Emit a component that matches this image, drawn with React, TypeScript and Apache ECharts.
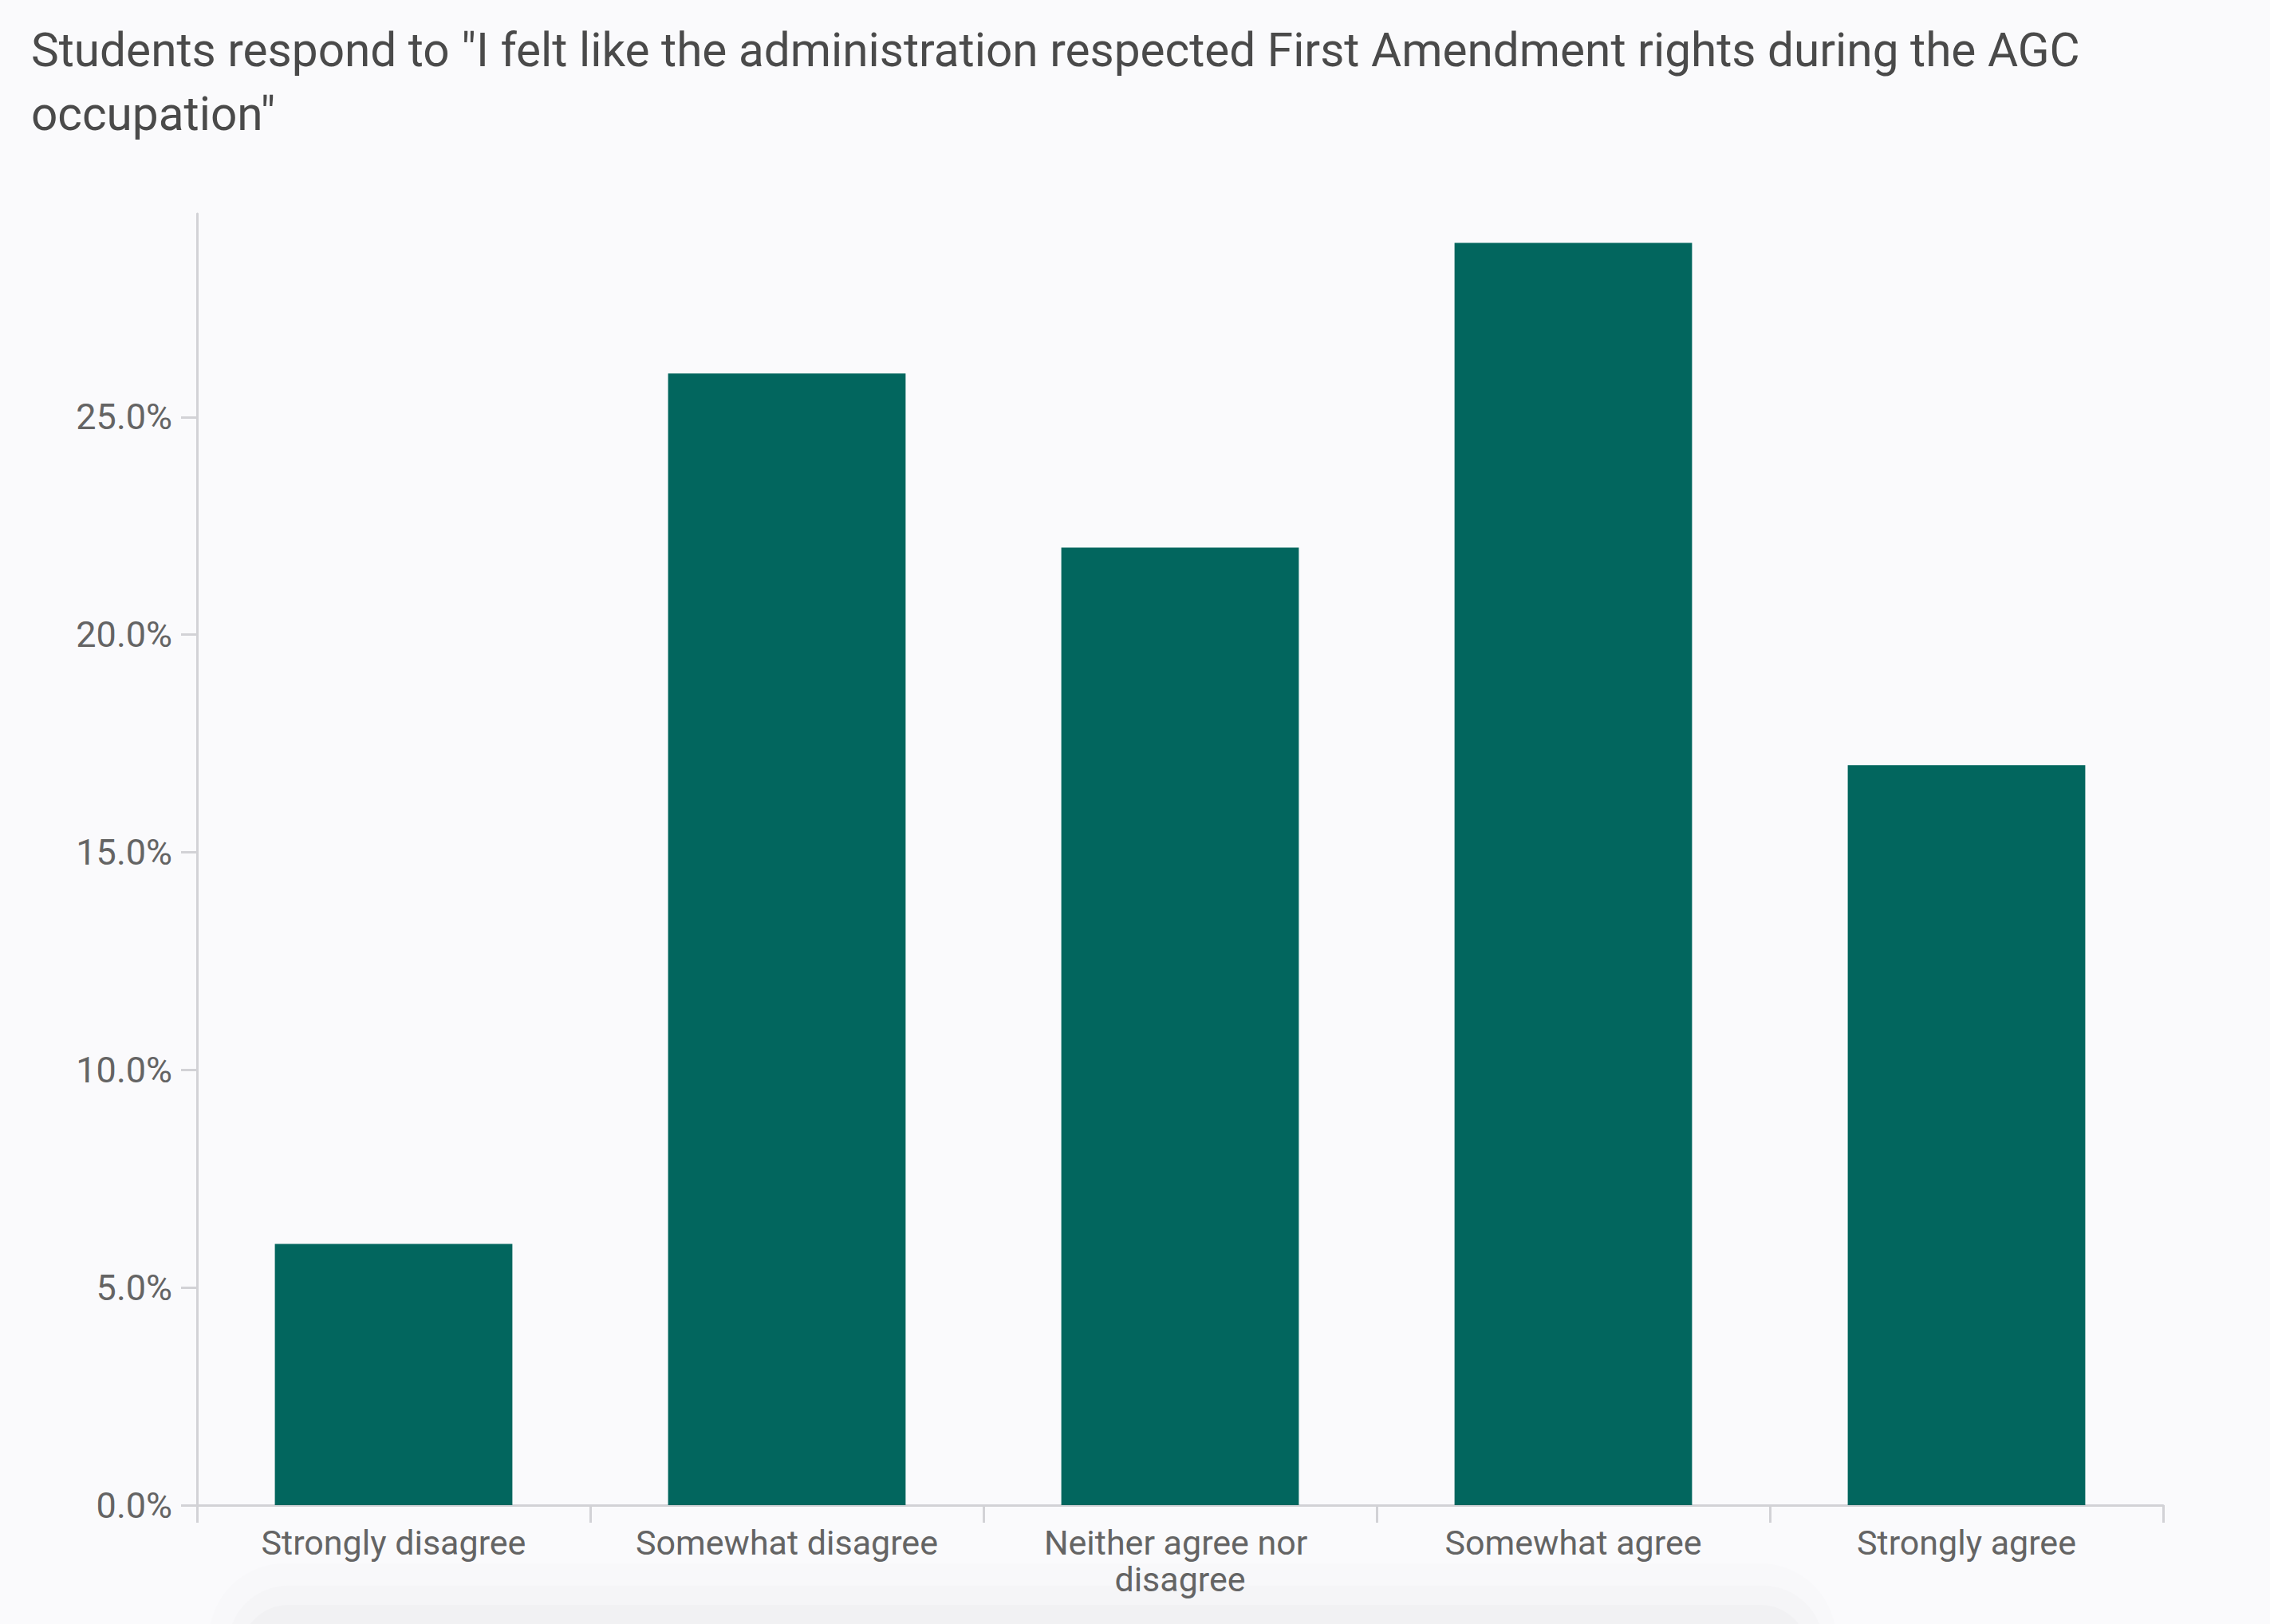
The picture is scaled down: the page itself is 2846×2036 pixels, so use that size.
import React, { useEffect, useRef } from "react";
import * as echarts from "echarts";

const TITLE_LINES = [
  'Students respond to "I felt like the administration respected First Amendment rights during the AGC',
  'occupation"',
];
const CATEGORIES = [
  "Strongly disagree",
  "Somewhat disagree",
  "Neither agree nor disagree",
  "Somewhat agree",
  "Strongly agree",
];
const VALUES = [6.0, 26.0, 22.0, 29.0, 17.0];
const Y_MIN = 0;
const Y_MAX = 29.67;
const Y_INTERVAL = 5;

const FONT = "Roboto, 'Noto Sans', sans-serif";

export default function App() {
  const ref = useRef<HTMLDivElement>(null);

  useEffect(() => {
    document.body.style.margin = "0";
    document.body.style.background = "#fafafc";
    const chart = echarts.init(ref.current!, null, { renderer: "svg" });
    chart.setOption({
      animation: false,
      backgroundColor: "#fafafc",
      textStyle: { fontFamily: FONT },
      title: {
        text: TITLE_LINES.join("\n"),
        left: 34,
        top: 18,
        textStyle: {
          fontFamily: FONT,
          fontSize: 58.5,
          lineHeight: 80,
          fontWeight: "normal",
          color: "#4a4a4a",
        },
      },
      graphic: [
        {
          type: "rect",
          z: -10,
          silent: true,
          shape: { x: 262, y: 1960, width: 2040, height: 200, r: 95 },
          style: { fill: "#f8f8fa" },
        },
        {
          type: "rect",
          z: -9,
          silent: true,
          shape: { x: 286, y: 1988, width: 2000, height: 200, r: 75 },
          style: { fill: "#f5f5f7" },
        },
        {
          type: "rect",
          z: -8,
          silent: true,
          shape: { x: 302, y: 2012, width: 1965, height: 200, r: 60 },
          style: { fill: "#f1f1f3" },
        },
      ],
      grid: { left: 247, right: 134, top: 268, bottom: 149, containLabel: false },
      xAxis: {
        type: "category",
        data: CATEGORIES,
        boundaryGap: true,
        axisLine: { show: true, lineStyle: { color: "#d2d2d6", width: 3 } },
        axisTick: { show: true, length: 22, lineStyle: { color: "#d2d2d6", width: 3 } },
        axisLabel: {
          interval: 0,
          margin: 24,
          fontFamily: FONT,
          fontSize: 43,
          lineHeight: 46,
          color: "#646464",
          width: 430,
          overflow: "break",
        },
        splitLine: { show: false },
      },
      yAxis: {
        type: "value",
        min: Y_MIN,
        max: Y_MAX,
        interval: Y_INTERVAL,
        axisLine: { show: true, lineStyle: { color: "#d2d2d6", width: 3 } },
        axisTick: { show: true, length: 20, lineStyle: { color: "#d2d2d6", width: 3 } },
        splitLine: { show: false },
        axisLabel: {
          showMaxLabel: false,
          margin: 31,
          fontFamily: FONT,
          fontSize: 45,
          color: "#646464",
          formatter: (v: number) => v.toFixed(1) + "%",
        },
      },
      series: [
        {
          type: "bar",
          data: VALUES,
          barWidth: "60.4%",
          itemStyle: { color: "#02665e" },
          emphasis: { disabled: true },
        },
      ],
    });
    return () => chart.dispose();
  }, []);

  return (
    <div
      ref={ref}
      style={{ position: "absolute", left: 0, top: 0, width: "2846px", height: "2036px" }}
    />
  );
}
